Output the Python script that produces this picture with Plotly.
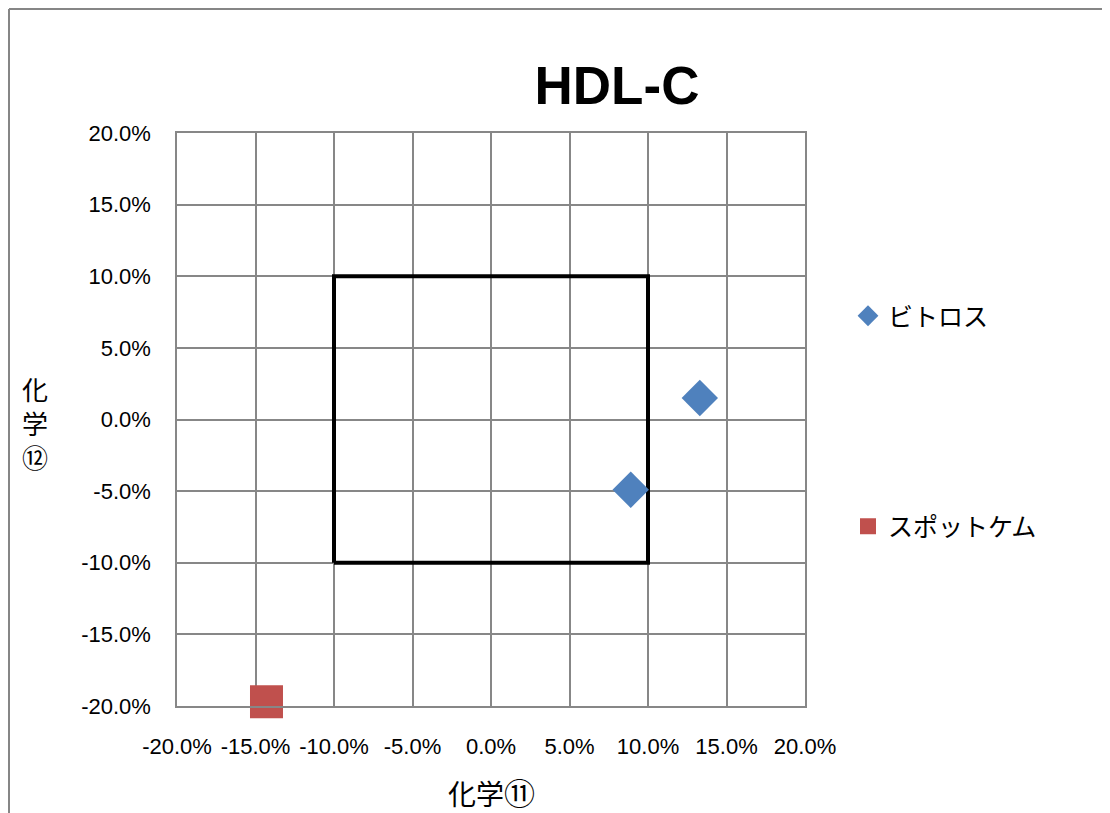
import plotly.graph_objects as go

# Data (fractions)
vitros_x = [0.133, 0.089]
vitros_y = [0.015, -0.049]
spotchem_x = [-0.143]
spotchem_y = [-0.197]
series_names = ["ビトロス", "スポットケム"]
box_x = [-0.10, 0.10, 0.10, -0.10, -0.10]
box_y = [-0.10, -0.10, 0.10, 0.10, -0.10]
tick_vals = [-0.20, -0.15, -0.10, -0.05, 0.0, 0.05, 0.10, 0.15, 0.20]
tick_text = ["-20.0%", "-15.0%", "-10.0%", "-5.0%", "0.0%", "5.0%", "10.0%", "15.0%", "20.0%"]

OFF = 8  # page body margin
W, H = 1110 - OFF, 813 - OFF
L, R, T, B = 177 - OFF, 305, 133 - OFF, 107
pw, ph = W - L - R, H - T - B

def px2x(p):
    return (p - OFF - L) / pw

def px2y(p):
    return (H - B - (p - OFF)) / ph

FONT = "Liberation Sans, Noto Sans CJK JP, sans-serif"
CJK = "Noto Sans CJK JP, sans-serif"
GRID = "#878787"

fig = go.Figure()
fig.add_trace(go.Scatter(x=box_x, y=box_y, mode="lines", line=dict(color="black", width=4),
                         showlegend=False, hoverinfo="skip"))
fig.add_trace(go.Scatter(x=vitros_x, y=vitros_y, mode="markers", name=series_names[0],
                         legendgroup="a", cliponaxis=False,
                         marker=dict(symbol="diamond", size=28, color="#4F81BD")))
fig.add_trace(go.Scatter(x=spotchem_x, y=spotchem_y, mode="markers", name=series_names[1],
                         legendgroup="b", cliponaxis=False,
                         marker=dict(symbol="square", size=33, color="#C0504D")))

axis_common = dict(range=[-0.2, 0.2], tickvals=tick_vals, ticktext=tick_text,
                   showgrid=True, gridcolor=GRID, gridwidth=1.5,
                   showline=True, linecolor=GRID, linewidth=1.5, mirror=True,
                   zeroline=False, ticks="", tickfont=dict(family=FONT, size=22, color="black"))

fig.update_xaxes(**axis_common, ticklabelstandoff=20)
fig.update_yaxes(**axis_common, ticklabelstandoff=20)

fig.update_layout(
    width=W, height=H,
    margin=dict(l=L, r=R, t=T, b=B, autoexpand=False),
    paper_bgcolor="white", plot_bgcolor="white",
    title=dict(text="<b>HDL-C</b>", x=px2x(617), xref="paper", xanchor="center",
               y=1 - (85 - OFF) / H, yref="container", yanchor="middle",
               font=dict(family=FONT, size=53, color="black")),
    legend=dict(x=px2x(848), y=px2y(293), xanchor="left", yanchor="top",
                traceorder="grouped", tracegroupgap=175,
                font=dict(family=CJK, size=25, color="black"),
                bgcolor="rgba(0,0,0,0)", itemsizing="trace"),
    showlegend=True,
)

fig.add_annotation(text="化学<span style='font-size:31px'>⑪</span>", xref="paper", yref="paper",
                   x=0.5, y=px2y(791),
                   xanchor="center", yanchor="middle", showarrow=False,
                   font=dict(family=CJK, size=28, color="black"))
fig.add_annotation(text="化<br>学<br>⑫", xref="paper", yref="paper",
                   x=px2x(35), y=px2y(422),
                   xanchor="center", yanchor="middle", showarrow=False,
                   font=dict(family=CJK, size=26, color="black"))

# outer chart frame (top and left edges visible)
fig.add_shape(type="line", xref="paper", yref="paper", x0=px2x(9), y0=px2y(9), x1=px2x(1115), y1=px2y(9),
              line=dict(color="#868686", width=2))
fig.add_shape(type="line", xref="paper", yref="paper", x0=px2x(9), y0=px2y(9), x1=px2x(9), y1=px2y(820),
              line=dict(color="#868686", width=2))

fig.write_html("out.html")
